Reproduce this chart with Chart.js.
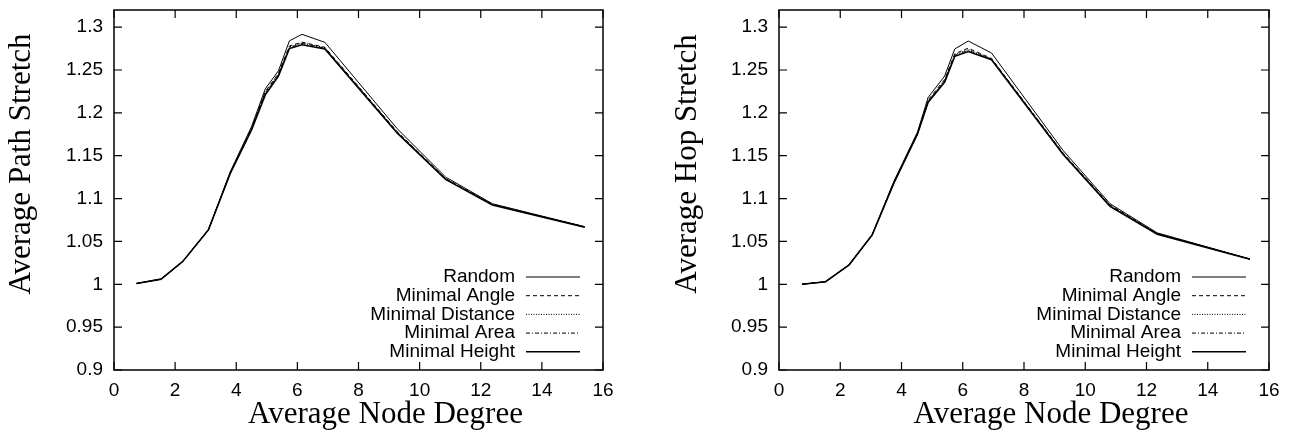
<!DOCTYPE html>
<html>
<head>
<meta charset="utf-8">
<script src="https://cdn.jsdelivr.net/npm/chart.js@4/dist/chart.umd.min.js"></script>
<style>
  body { margin: 0; background: #fff; }
  #left { position: absolute; left: 0; top: 0; }
  #right { position: absolute; left: 640px; top: 0; }
</style>
</head>
<body>
<canvas id="left" width="640" height="434"></canvas>
<canvas id="right" width="652" height="434"></canvas>
<script>
// series names (same for both plots)
var seriesNames = ['Random', 'Minimal Angle', 'Minimal Distance', 'Minimal Area', 'Minimal Height'];

// left plot: Average Path Stretch
var degreeLeft = [0.74, 1.54, 2.25, 3.09, 3.8, 4.5, 4.95, 5.38, 5.74, 6.15, 6.9, 9.27, 10.85, 12.38, 15.4];
var pathRandom   = [1.001, 1.006, 1.0266, 1.0636, 1.131, 1.184, 1.228, 1.249, 1.284, 1.2916, 1.2823, 1.1814, 1.1251, 1.094, 1.0672];
var pathAngle    = [1.001, 1.006, 1.0266, 1.0636, 1.130, 1.182, 1.225, 1.246, 1.278, 1.2825, 1.2765, 1.178, 1.1235, 1.0932, 1.0669];
var pathDistance = [1.001, 1.006, 1.0266, 1.0636, 1.130, 1.182, 1.224, 1.245, 1.277, 1.2818, 1.276, 1.1775, 1.123, 1.093, 1.0668];
var pathArea     = [1.001, 1.006, 1.0266, 1.0636, 1.129, 1.181, 1.223, 1.244, 1.276, 1.281, 1.2755, 1.177, 1.1228, 1.0928, 1.0668];
var pathHeight   = [1.001, 1.006, 1.0266, 1.0636, 1.129, 1.180, 1.221, 1.243, 1.275, 1.2795, 1.2745, 1.1763, 1.1224, 1.0926, 1.0667];

// right plot: Average Hop Stretch
var degreeRight = [0.75, 1.52, 2.29, 3.04, 3.75, 4.52, 4.87, 5.41, 5.74, 6.18, 6.94, 9.28, 10.81, 12.35, 15.38];
var hopRandom   = [1.000, 1.003, 1.0227, 1.0575, 1.12, 1.1775, 1.218, 1.243, 1.2746, 1.2838, 1.2698, 1.156, 1.094, 1.060, 1.0295];
var hopAngle    = [1.000, 1.003, 1.0227, 1.0575, 1.119, 1.176, 1.215, 1.239, 1.269, 1.2755, 1.2635, 1.153, 1.0925, 1.0592, 1.0293];
var hopDistance = [1.000, 1.003, 1.0227, 1.0575, 1.119, 1.1755, 1.214, 1.238, 1.268, 1.274, 1.263, 1.1525, 1.092, 1.059, 1.0293];
var hopArea     = [1.000, 1.003, 1.0227, 1.0575, 1.118, 1.175, 1.213, 1.237, 1.267, 1.273, 1.2625, 1.152, 1.0915, 1.0588, 1.0293];
var hopHeight   = [1.000, 1.003, 1.0227, 1.0575, 1.118, 1.175, 1.2124, 1.236, 1.266, 1.2716, 1.262, 1.1514, 1.0909, 1.0585, 1.0292];

// axis ticks
var xMin = 0, xMax = 16, xStep = 2;
var yMin = 0.9, yMax = 1.32, yStep = 0.05;
var xTitle = 'Average Node Degree';

// line styles, in series order
var dashes = [[], [4, 3], [1, 1.5], [4, 2, 1, 2], []];
var widths = [1, 1, 1, 1, 1.6];

var sansFont = '"Liberation Sans", Arial, sans-serif';
var serifFont = '"Liberation Serif", "Times New Roman", serif';

// frame, inward ticks, axis titles and legend (gnuplot look)
var framePlugin = {
  id: 'frame',
  afterDraw: function(chart, args, opts) {
    var ctx = chart.ctx, a = chart.chartArea;
    var xs = chart.scales.x, ys = chart.scales.y;
    ctx.save();
    ctx.strokeStyle = '#000';
    ctx.lineWidth = 1.5;
    ctx.setLineDash([]);
    ctx.strokeRect(a.left, a.top, a.right - a.left, a.bottom - a.top);
    ctx.lineWidth = 1.2;
    ctx.beginPath();
    xs.ticks.forEach(function(t) {
      var px = xs.getPixelForValue(t.value);
      ctx.moveTo(px, a.bottom); ctx.lineTo(px, a.bottom - 8);
      ctx.moveTo(px, a.top); ctx.lineTo(px, a.top + 8);
    });
    ys.ticks.forEach(function(t) {
      var py = ys.getPixelForValue(t.value);
      ctx.moveTo(a.left, py); ctx.lineTo(a.left + 8, py);
      ctx.moveTo(a.right, py); ctx.lineTo(a.right - 8, py);
    });
    ctx.stroke();

    // axis titles
    ctx.fillStyle = '#000';
    ctx.font = '31px ' + serifFont;
    ctx.textAlign = 'center';
    ctx.textBaseline = 'middle';
    ctx.fillText(xTitle, (a.left + a.right) / 2 + 27, 415);
    ctx.save();
    ctx.translate(opts.yTitleX, 164);
    ctx.rotate(-Math.PI / 2);
    ctx.fillText(opts.yTitle, 0, 0);
    ctx.restore();

    // legend inside, bottom right
    ctx.font = '19px ' + sansFont;
    ctx.textAlign = 'right';
    chart.data.datasets.forEach(function(ds, i) {
      var y = a.bottom - 93 + i * 18.7;
      ctx.fillText(ds.label, a.right - 88, y);
      ctx.beginPath();
      ctx.lineWidth = ds.borderWidth;
      ctx.setLineDash(ds.borderDash);
      ctx.moveTo(a.right - 77, y);
      ctx.lineTo(a.right - 23, y);
      ctx.stroke();
    });
    ctx.restore();
  }
};

function makeChart(id, degrees, seriesList, yTitle, yWidth, yTitleX, padRight) {
  var datasets = seriesList.map(function(vals, i) {
    return {
      label: seriesNames[i],
      data: degrees.map(function(d, j) { return { x: d, y: vals[j] }; }),
      borderColor: '#000',
      borderWidth: widths[i],
      borderDash: dashes[i],
      pointRadius: 0,
      fill: false,
      tension: 0
    };
  });
  return new Chart(document.getElementById(id), {
    type: 'line',
    data: { datasets: datasets },
    options: {
      responsive: false,
      animation: false,
      layout: { padding: { top: 10, right: padRight, bottom: 0, left: 0 } },
      plugins: {
        legend: { display: false },
        tooltip: { enabled: false },
        frame: { yTitle: yTitle, yTitleX: yTitleX }
      },
      scales: {
        x: {
          type: 'linear', min: xMin, max: xMax,
          border: { display: false },
          grid: { display: false, drawTicks: false },
          ticks: {
            stepSize: xStep, color: '#000', padding: 9,
            font: { family: sansFont, size: 19 }
          },
          afterFit: function(s) { s.height = 64; s.paddingLeft = 0; s.paddingRight = 0; }
        },
        y: {
          type: 'linear', min: yMin, max: yMax,
          border: { display: false },
          grid: { display: false, drawTicks: false },
          ticks: {
            stepSize: yStep, includeBounds: false, color: '#000', padding: 11,
            font: { family: sansFont, size: 19 },
            callback: function(v) { return String(+v.toFixed(2)); }
          },
          afterFit: function(s) { s.width = yWidth; s.paddingTop = 0; s.paddingBottom = 0; }
        }
      }
    },
    plugins: [framePlugin]
  });
}

makeChart('left', degreeLeft, [pathRandom, pathAngle, pathDistance, pathArea, pathHeight],
  'Average Path Stretch', 114, 22, 37);
makeChart('right', degreeRight, [hopRandom, hopAngle, hopDistance, hopArea, hopHeight],
  'Average Hop Stretch', 139, 48, 23);
</script>
</body>
</html>
